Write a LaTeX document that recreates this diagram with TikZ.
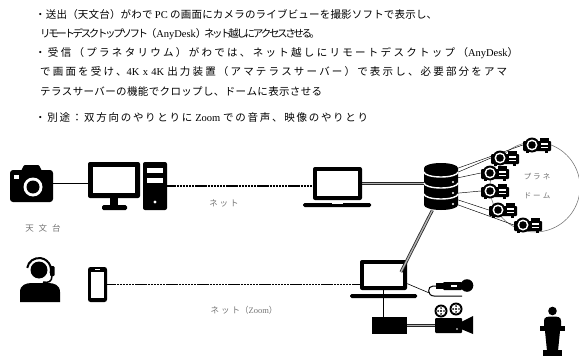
\documentclass[tikz,border=0pt]{standalone}
\usepackage{fontspec}
\setmainfont{Liberation Serif}
\newfontfamily\jp{Noto Sans CJK JP}

% glue between Japanese characters so a line can be fitted to a width
\XeTeXinterchartokenstate=1
\newXeTeXintercharclass\kana
\makeatletter
\count@="3000
\loop\ifnum\count@<"3100 \XeTeXcharclass\count@=\kana \advance\count@ 1 \repeat
\count@="4E00
\loop\ifnum\count@<"A000 \XeTeXcharclass\count@=\kana \advance\count@ 1 \repeat
\count@="FF00
\loop\ifnum\count@<"FF60 \XeTeXcharclass\count@=\kana \advance\count@ 1 \repeat
\makeatother
\XeTeXinterchartoks\kana\kana={\hskip 0pt plus 4pt minus 2.4pt\relax}

\newcommand\fitline[2]{\makebox[#1][s]{#2}}

\begin{document}
\begin{tikzpicture}[x=1pt,y=-1pt,
  txt/.style={anchor=west, inner sep=0, text=black,
    font=\jp\fontsize{10.5}{12}\selectfont},
  lbl/.style={inner sep=0, text=black!55, font=\jp\fontsize{8.5}{10}\selectfont},
  iconbox/.style 2 args={inner sep=0, minimum width=#1, minimum height=#2},
  net/.style={line width=1.2pt, dash pattern=on 2.4pt off 0.7pt},
  cable/.style={draw=black!85, line width=0.8pt, double=black!30, double distance=1.4pt},
  wire/.style={line width=0.45pt}]
\useasboundingbox (0,0) rectangle (579,356);

% Beschreibung
\node[txt] (l1) at (35,15) {\fitline{402pt}{・送出（天文台）がわで {\rmfamily PC} の画面にカメラのライブビューを撮影ソフトで表示し、}};
\node[txt] (l2) at (40,34) {\fitline{280pt}{リモートデスクトップソフト（{\rmfamily AnyDesk}）ネット越しにアクセスさせる。}};
\node[txt] (l3) at (35,53) {\fitline{483pt}{・受信（プラネタリウム）がわでは、ネット越しにリモートデスクトップ（{\rmfamily AnyDesk}）}};
\node[txt] (l4) at (40,72) {\fitline{467pt}{で画面を受け、{\rmfamily 4K x 4K} 出力装置（アマテラスサーバー）で表示し、必要部分をアマ}};
\node[txt] (l5) at (40,92) {\fitline{282pt}{テラスサーバーの機能でクロップし、ドームに表示させる}};
\node[txt] (l6) at (35,118) {\fitline{333pt}{・別途：双方向のやりとりに {\rmfamily Zoom} での音声、映像のやりとり}};

% Knoten
\node[iconbox={43pt}{37pt}] (cam) at (31.5,183.5) {};
\node[iconbox={52pt}{48pt}] (mon) at (114,186) {};
\node[iconbox={24pt}{48pt}] (tower) at (155,186) {};
\node[iconbox={49pt}{33pt}] (lapA) at (337.5,183.5) {};
\node[iconbox={34pt}{47pt}] (srv) at (441,186.5) {};
\node[iconbox={47pt}{30pt}] (lapB) at (383.5,275) {};
\node[iconbox={43pt}{15pt}] (mic) at (451.5,285.5) {};
\node[iconbox={35pt}{17pt}] (box) at (389.5,325.5) {};
\node[iconbox={38pt}{30pt}] (film) at (454,318) {};
\node[iconbox={40pt}{46pt}] (user) at (40,279) {};
\node[iconbox={19pt}{35pt}] (phone) at (97.5,284.5) {};
\node[iconbox={25pt}{49pt}] (pod) at (552.5,331.5) {};
\coordinate (plug) at (401,272);

% Dome
\node[circle, draw=black!60, line width=0.5pt, minimum size=90pt, inner sep=0] (dome) at (535,187) {};
\node[lbl, font=\jp\fontsize{7.5}{9}\selectfont] (domeA) at (537,177) {プ\hspace{2pt}ラ\hspace{2pt}ネ};
\node[lbl, font=\jp\fontsize{7.5}{9}\selectfont] (domeB) at (537,196) {ド\hspace{2pt}ー\hspace{2pt}ム};

\foreach \p/\x/\y in {1/537/145, 2/505/158, 3/495/173, 4/495/191, 5/503/210, 6/528/225}
  \node[iconbox={28pt}{11pt}] (pj\p) at (\x,\y) {};

% Leitungen
\draw[line width=1.2pt] (cam.east) -- (cam.east -| mon.west);
\draw[net] (tower.east) -- (tower.east -| lapA.west);
\draw[cable] (lapA.east) -- (lapA.east -| srv.west);
\draw[net] (phone.east) -- (phone.east -| lapB.west);
\draw[line width=0.6pt] (lapB.-20) -- (mic.south west);
\draw[line width=0.8pt] (lapB.south) -- (lapB.south |- box.north);
\draw[cable] (box.east) -- (box.east -| film.west);
\foreach \p/\a in {1/47, 2/40, 3/27, 4/-21, 5/-38, 6/-47}
  \draw[wire] (srv.\a) -- (pj\p.west);

% Kamera
\fill[rounded corners=3] (10,170) rectangle (53,202);
\fill[rounded corners=1] (21,171) -- (24,165) -- (39,165) -- (42,171) -- cycle;
\fill[white] (33,187) circle (9.5);
\fill (33,187) circle (6.5);
\fill[white] (14,175) rectangle (19,179);

% Monitor + PC
\fill[rounded corners=2] (88,162) rectangle (140,198);
\fill[white] (93,167) rectangle (135,193);
\fill (110,197) rectangle (118,206);
\fill[rounded corners=1.5] (102,205) rectangle (127,210);
\fill[rounded corners=2] (143,162) rectangle (167,210);
\fill[white] (147,168) rectangle (163,173);
\fill[white] (147,178) rectangle (163,183);
\fill[white] (155,202) circle (1.6);

% Laptop oben
\fill[rounded corners=2] (313,167) rectangle (362,200);
\fill[white] (317,171) rectangle (358,196);
\fill[rounded corners=1.5] (303,203) rectangle (371,207);
\fill[white] (332,203) rectangle (343,204.2);

% Server
\fill (424,168) -- (424,205) arc[start angle=180, end angle=0, x radius=17, y radius=5]
  -- (458,168) arc[start angle=0, end angle=-180, x radius=17, y radius=5] -- cycle;
\foreach \y in {172,183,194}
  \draw[white, line width=1.4pt] (424,\y) arc[start angle=180, end angle=0, x radius=17, y radius=5];
\foreach \y in {182,193,204}
  \fill[white] (453,\y) circle (1.2);

% Beamer
\foreach \p in {1,...,6} {
  \begin{scope}[shift={(pj\p.center)}]
    \fill[rounded corners=1] (-14,-4) rectangle (14,6);
    \fill (3,-7) rectangle (12,-4);
    \fill (-11,6) rectangle (-8,8);
    \fill (8,6) rectangle (11,8);
    \fill (-5,0) circle (7.5);
    \fill[white] (-5,0) circle (5.5);
    \fill (-5,0) circle (3.8);
    \draw[white, line width=1.2pt] (4,-1) -- (11,-1) (4,2.5) -- (11,2.5);
  \end{scope}
}

% Laptop unten
\fill[rounded corners=2] (360,260) rectangle (407,290);
\fill[white] (364,264) rectangle (403,286);
\fill[rounded corners=1.5] (350,294) rectangle (417,298);
\draw[cable] (srv.250) -- (plug);

% Mikrofon
\draw[line width=1pt] (437,286) -- (433,286) .. controls (427,286) and (427,296) .. (434,296) -- (462,296);
\fill (436,283) rectangle (443,289);
\fill[rounded corners=1] (443,282) rectangle (462,290);
\fill[white] (451,284.5) rectangle (457,287);
\fill (467,285.5) circle (6.3);

% Kasten + Filmkamera
\fill (372,317) rectangle (407,334);
\foreach \x/\y in {441/311, 456/309} {
  \fill (\x,\y) circle (6.5);
  \fill[white] (\x,\y) circle (4.6);
  \fill (\x,\y) circle (1.2);
  \foreach \w in {0,90,180,270}
    \fill (\x,\y) ++(\w:2.9) circle (0.9);
}
\fill[rounded corners=1] (435,318) rectangle (462,333);
\fill (461,322) -- (473,316) -- (473,334) -- (461,329) -- cycle;
\fill[white] (457,329) circle (0.8);

% Person mit Headset
\fill (39,270) circle (8.5);
\draw[line width=2pt] (39,270) ++(190:12) arc[start angle=190, end angle=375, radius=12];
\fill[rounded corners=1] (50,266) rectangle (54.5,276);
\draw[line width=1.5pt] (52,276) .. controls (52,282) and (48,283) .. (43,282);
\fill (20,302) -- (20,292) .. controls (20,285) and (26,283) .. (32,283) -- (48,283)
  .. controls (54,283) and (60,285) .. (60,292) -- (60,302) -- cycle;

% Smartphone
\fill[rounded corners=2.5] (88,267) rectangle (107,302);
\fill[white] (91,272) rectangle (104,298);
\draw[white, line width=0.8pt] (95,269.5) -- (100,269.5);

% Redner am Pult
\fill (552.5,311) circle (4.3);
\fill (544,327) -- (544,321) .. controls (544,317) and (547,316.5) .. (552.5,316.5)
  .. controls (558,316.5) and (561,317) .. (561,321) -- (561,327) -- cycle;
\fill (540,326) rectangle (565,331);
\fill (545,331) -- (560,331) -- (558,351) -- (547,351) -- cycle;
\fill (543,350) rectangle (562,356);

% Beschriftungen
\node[lbl] (netA) at (224,203) {ネ\hspace{2pt}ッ\hspace{2pt}ト};
\node[lbl] (site) at (43,228) {天\hspace{5pt}文\hspace{5pt}台};
\node[lbl] (netB) at (244,310) {ネ\hspace{2pt}ッ\hspace{2pt}ト（{\rmfamily Zoom}）};

\end{tikzpicture}
\end{document}
